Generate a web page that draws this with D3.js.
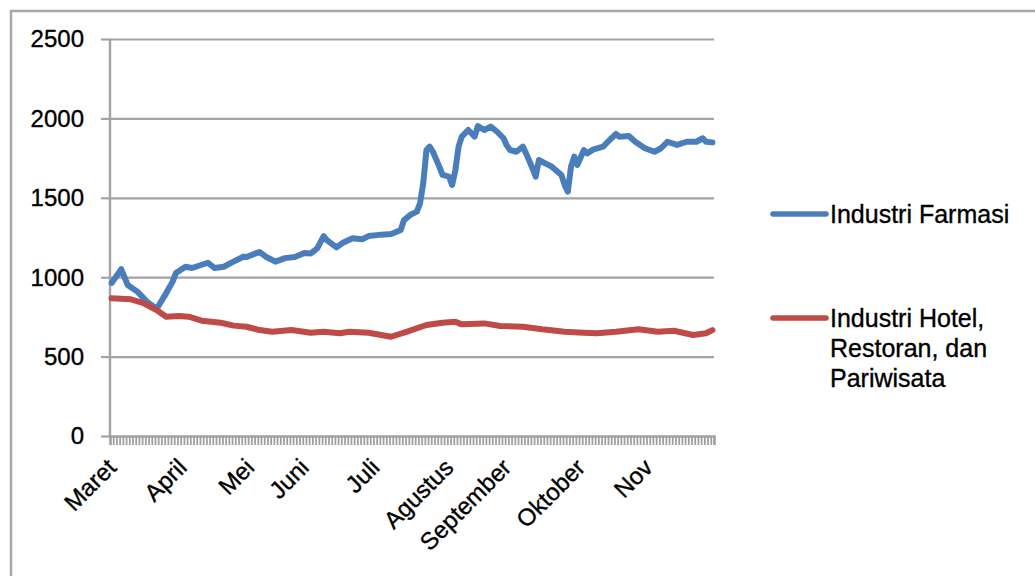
<!DOCTYPE html>
<html>
<head>
<meta charset="utf-8">
<script src="https://cdn.jsdelivr.net/npm/d3@7"></script>
<style>
  html, body { margin: 0; padding: 0; background: #fff; }
  svg { display: block; font-family: "Liberation Sans", Arial, sans-serif; }
  text { stroke: #000; stroke-width: 0.35px; }
</style>
</head>
<body>
<svg id="chart" width="1035" height="576"></svg>
<script>
// ---- data (trading-day index, value) ----
const dayCount = 188;
const monthLabels = ["Maret", "April", "Mei", "Juni", "Juli", "Agustus", "September", "Oktober", "Nov"];
const monthStartDay = [0, 22, 43, 60, 82, 105, 123, 146, 167];
const yTicks = [0, 500, 1000, 1500, 2000, 2500];

const farmasiDay = [0, 3, 5, 8, 11, 14, 17, 19, 20, 23, 25, 30, 32, 35, 37, 41, 42, 46, 48, 51, 54, 57, 60, 62, 63, 64, 66, 67, 70, 72, 75, 78, 80, 84, 87, 88, 90, 91, 93, 95, 96, 97, 98, 99, 100, 102, 103, 105, 106, 107, 108, 109, 111, 113, 114, 116, 118, 120, 122, 123, 124, 126, 128, 129, 131, 132, 133, 135, 137, 140, 141, 142, 143, 144, 145, 147, 148, 150, 153, 155, 157, 158, 161, 163, 166, 169, 171, 173, 176, 179, 182, 184, 185, 187];
const farmasiValue = [964, 1050, 951, 909, 846, 800, 900, 972, 1026, 1066, 1058, 1091, 1058, 1066, 1089, 1129, 1127, 1159, 1129, 1098, 1120, 1127, 1152, 1150, 1165, 1182, 1259, 1234, 1188, 1217, 1245, 1239, 1259, 1268, 1272, 1280, 1297, 1360, 1392, 1413, 1465, 1591, 1801, 1822, 1790, 1696, 1644, 1633, 1581, 1675, 1822, 1885, 1927, 1885, 1952, 1927, 1948, 1916, 1875, 1830, 1801, 1790, 1822, 1780, 1686, 1633, 1738, 1717, 1696, 1644, 1581, 1539, 1696, 1759, 1707, 1801, 1780, 1805, 1822, 1864, 1902, 1885, 1889, 1853, 1812, 1790, 1812, 1853, 1833, 1853, 1853, 1875, 1853, 1849];

const hotelDay = [0, 6, 10, 14, 17, 21, 24, 28, 34, 38, 42, 46, 50, 56, 62, 66, 71, 74, 80, 87, 92, 98, 103, 107, 109, 116, 121, 128, 134, 141, 147, 151, 157, 164, 170, 175, 181, 185, 187];
const hotelValue = [867, 861, 836, 793, 751, 756, 751, 726, 713, 695, 688, 667, 657, 667, 650, 657, 647, 657, 650, 625, 657, 699, 713, 720, 703, 709, 693, 688, 672, 657, 650, 647, 657, 672, 657, 663, 636, 647, 667];

const seriesNames = ["Industri Farmasi", "Industri Hotel, Restoran, dan Pariwisata"];
const legendLines = [["Industri Farmasi"], ["Industri Hotel,", "Restoran, dan", "Pariwisata"]];
const seriesColors = ["#4A7EBB", "#BE4B48"];

// ---- layout ----
const svg = d3.select("#chart");
const plot = { left: 110, right: 714, top: 39, bottom: 436 };
const gridColor = "#a3a3a3";
const fontSize = 24;

// outer border (top and left visible)
svg.append("path")
  .attr("d", "M11,1040 L11,11 L1040,11")
  .attr("fill", "none").attr("stroke", "#a8a8a8").attr("stroke-width", 2.5);

const x = d3.scaleLinear().domain([-0.5, dayCount - 0.5]).range([plot.left, plot.right]);
const y = d3.scaleLinear().domain([0, 2500]).range([plot.bottom, plot.top]);

// y gridlines + ticks
const yAxis = d3.axisLeft(y).tickValues(yTicks).tickSize(9).tickFormat("");
const gy = svg.append("g").attr("transform", `translate(${plot.left},0)`).call(yAxis);
gy.select(".domain").remove();
gy.selectAll(".tick line").attr("stroke", gridColor).attr("stroke-width", 2.2);

const grid = d3.axisLeft(y).tickValues(yTicks.filter(v => v > 0)).tickSize(-(plot.right - plot.left)).tickFormat("");
const gg = svg.append("g").attr("transform", `translate(${plot.left},0)`).call(grid);
gg.select(".domain").remove();
gg.selectAll(".tick line").attr("stroke", gridColor).attr("stroke-width", 2.2);

// y labels
svg.append("g").selectAll("text").data(yTicks).join("text")
  .attr("x", 84).attr("y", d => y(d)).attr("dy", "0.35em")
  .attr("text-anchor", "end").attr("font-size", fontSize).attr("fill", "#000")
  .text(d => d);

// y axis line
svg.append("line").attr("x1", plot.left).attr("x2", plot.left)
  .attr("y1", plot.top).attr("y2", plot.bottom + 1)
  .attr("stroke", gridColor).attr("stroke-width", 2.4);

// x axis dense category ticks
const xTickAxis = d3.axisBottom(x).tickValues(d3.range(dayCount + 1).map(k => k - 0.5)).tickSize(9).tickFormat("");
const gx = svg.append("g").attr("transform", `translate(0,${plot.bottom})`).call(xTickAxis);
gx.select(".domain").attr("stroke", gridColor).attr("stroke-width", 2.4);
gx.selectAll(".tick line").attr("stroke", "#a0a0a0").attr("stroke-width", 1.8);

// month labels
svg.append("g").selectAll("text").data(monthLabels).join("text")
  .attr("transform", (d, i) => `translate(${x(monthStartDay[i]) + 6},${plot.bottom + 33}) rotate(-45)`)
  .attr("text-anchor", "end").attr("font-size", fontSize).attr("fill", "#000")
  .text(d => d);

// lines
const line = d3.line().x(d => x(d[0])).y(d => y(d[1])).curve(d3.curveLinear);
const farmasi = farmasiDay.map((d, i) => [d, farmasiValue[i]]);
const hotel = hotelDay.map((d, i) => [d, hotelValue[i]]);
[farmasi, hotel].forEach((data, i) => {
  svg.append("path").datum(data).attr("d", line)
    .attr("fill", "none").attr("stroke", seriesColors[i])
    .attr("stroke-width", 6).attr("stroke-linejoin", "round").attr("stroke-linecap", "round");
});

// legend
const legendY = [214, 318];
legendLines.forEach((lines, i) => {
  svg.append("line").attr("x1", 773).attr("x2", 826)
    .attr("y1", legendY[i]).attr("y2", legendY[i])
    .attr("stroke", seriesColors[i]).attr("stroke-width", 5.5).attr("stroke-linecap", "round");
  svg.append("g").selectAll("text").data(lines).join("text")
    .attr("x", 830).attr("y", (d, k) => legendY[i] + 9 + k * 30)
    .attr("font-size", 25).attr("fill", "#000")
    .text(d => d);
});
</script>
</body>
</html>
